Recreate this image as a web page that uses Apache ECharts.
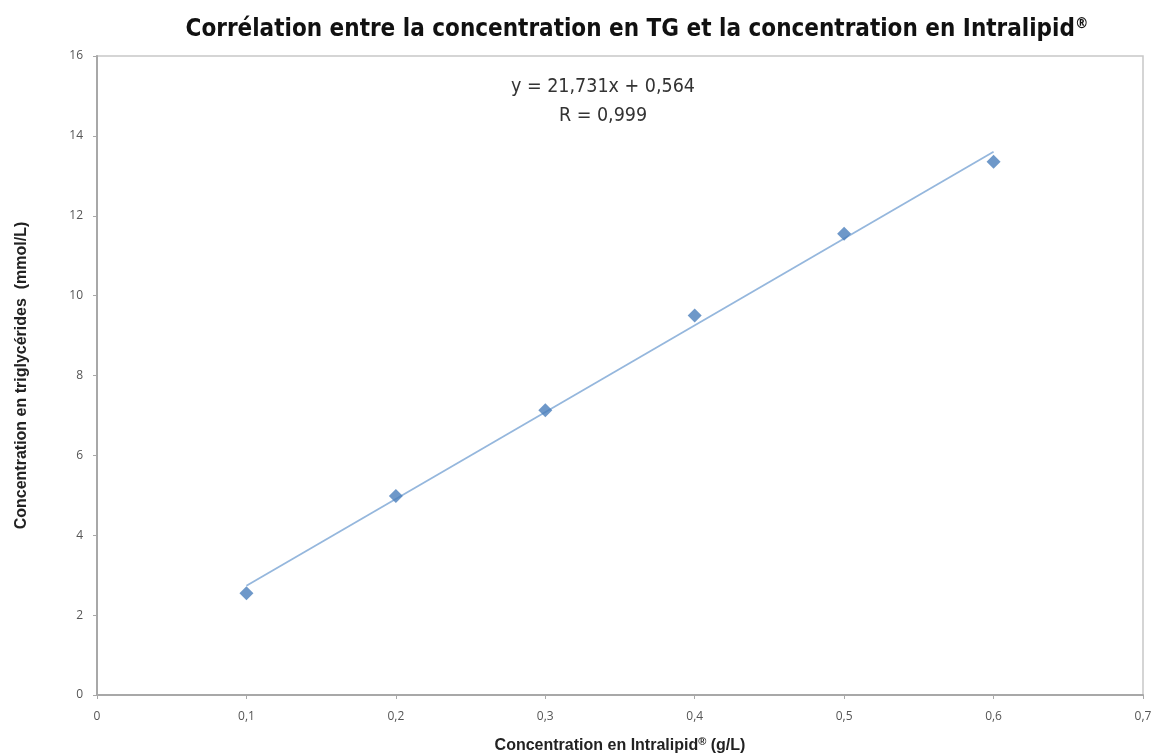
<!DOCTYPE html>
<html>
<head>
<meta charset="utf-8">
<script src="https://cdn.jsdelivr.net/npm/echarts@6/dist/echarts.min.js"></script>
<style>html,body{margin:0;padding:0;background:#fff;}#c{width:1155px;height:756px;}</style>
</head>
<body>
<div id="c"></div>
<script>
var xValues = [0.1, 0.2, 0.3, 0.4, 0.5, 0.6];
var yValues = [2.55, 4.98, 7.13, 9.5, 11.55, 13.35];
var trendX = [0.1, 0.6];
var trendY = [2.737, 13.603];
var titleMain = 'Corrélation entre la concentration en TG et la concentration en Intralipid';
var equationLines = ['y = 21,731x + 0,564', 'R = 0,999'];
var xNameMain = 'Concentration en Intralipid';
var xNameUnit = ' (g/L)';
var yName = 'Concentration en triglycérides  (mmol/L)';

var points = xValues.map(function (x, i) { return [x, yValues[i]]; });
var trend = trendX.map(function (x, i) { return [x, trendY[i]]; });
function fmt(v) { return String(Math.round(v * 10) / 10).replace('.', ','); }

var condensed = "'DejaVu Sans Condensed', 'Liberation Sans Narrow', 'Liberation Sans', sans-serif";

var chart = echarts.init(document.getElementById('c'));
chart.setOption({
  animation: false,
  backgroundColor: '#fff',
  title: {
    text: titleMain + '{sup|®}',
    left: 632, top: 12, textAlign: 'center',
    textStyle: {
      fontFamily: condensed, fontWeight: 'bold', fontSize: 24, color: '#111',
      rich: { sup: { fontFamily: condensed, fontWeight: 'bold', fontSize: 15, color: '#111', padding: [0, 0, 10, 0] } }
    }
  },
  grid: { left: 97, right: 12, top: 56, bottom: 61, outerBoundsMode: 'none', containLabel: false, show: true, borderColor: '#c8c8c8', borderWidth: 1.5 },
  xAxis: {
    type: 'value', min: 0, max: 0.7, interval: 0.1,
    name: xNameMain + '{sup|®}' + xNameUnit, nameLocation: 'middle', nameGap: 41,
    nameTextStyle: {
      fontFamily: 'Liberation Sans', fontWeight: 'bold', fontSize: 16, color: '#222',
      rich: { sup: { fontFamily: 'Liberation Sans', fontWeight: 'bold', fontSize: 11, color: '#222', padding: [0, 0, 8, 0] } }
    },
    axisLine: { lineStyle: { color: '#a8a8a8', width: 2 } },
    axisTick: { show: true, length: 4, inside: false, lineStyle: { color: '#a8a8a8' } },
    axisLabel: { formatter: fmt, color: '#555', fontSize: 12, margin: 16, fontFamily: 'Open Sans' },
    splitLine: { show: false }
  },
  yAxis: {
    type: 'value', min: 0, max: 16, interval: 2,
    name: yName, nameLocation: 'middle', nameGap: 67,
    nameTextStyle: { fontFamily: 'Liberation Sans', fontWeight: 'bold', fontSize: 16, color: '#222' },
    axisLine: { show: true, lineStyle: { color: '#a8a8a8', width: 2 } },
    axisTick: { show: true, length: 4, lineStyle: { color: '#a8a8a8' } },
    axisLabel: { formatter: fmt, color: '#555', fontSize: 12, margin: 14, fontFamily: 'Open Sans' },
    splitLine: { show: false }
  },
  graphic: [{
    type: 'text', x: 603, y: 72,
    style: {
      text: equationLines.join('\n'),
      fontFamily: condensed, fontSize: 19.5, lineHeight: 29,
      fill: '#333', align: 'center', verticalAlign: 'top'
    }
  }],
  series: [
    {
      type: 'line', data: trend, showSymbol: false, symbol: 'none',
      lineStyle: { color: '#95b7dd', width: 1.8 }, z: 2
    },
    {
      type: 'scatter', data: points, symbol: 'diamond', symbolSize: 14,
      itemStyle: { color: '#4a7ebb' }, z: 3
    }
  ]
});
</script>
</body>
</html>
